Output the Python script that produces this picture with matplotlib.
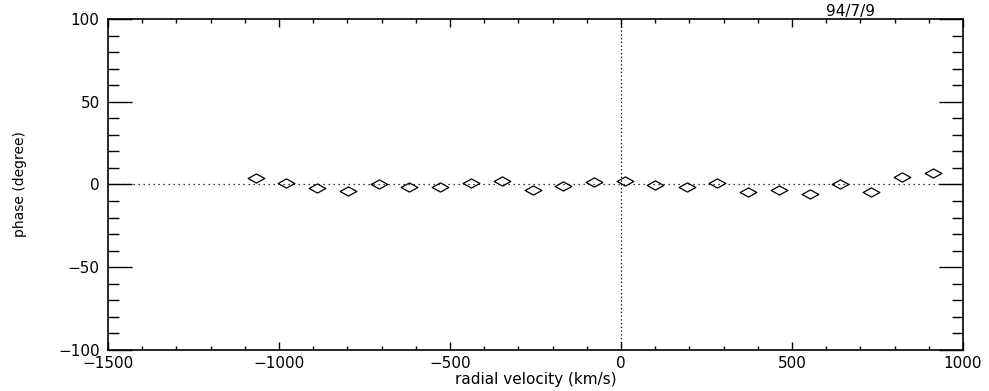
import numpy as np
import matplotlib.pyplot as plt
from matplotlib.path import Path
from matplotlib.ticker import MultipleLocator

# radial velocity (km/s) and phase (degree)
velocity = [-1068, -980, -890, -799, -708, -619, -529, -439, -348, -258, -169, -79,
            11, 99, 192, 282, 371, 461, 553, 641, 731, 822, 911]
phase = [4.0, 1.2, -2.0, -4.2, 0.6, -1.4, -1.6, 1.2, 2.0, -3.6, -0.8, 1.4,
         2.2, -0.4, -1.8, 1.0, -4.6, -3.4, -5.6, 0.0, -4.6, 4.6, 6.8]
date_label = "94/7/9"

# flattened diamond like the IDL psym=4
diamond = Path([(-1, 0), (0, 0.55), (1, 0), (0, -0.55), (-1, 0)],
               [Path.MOVETO, Path.LINETO, Path.LINETO, Path.LINETO, Path.CLOSEPOLY])

fig = plt.figure(figsize=(9.89, 3.91), dpi=100)
ax = fig.add_axes([0.1092, 0.1049, 0.8645, 0.8465])

ax.axhline(0, color='black', ls=(0, (1, 3)), lw=0.9)
ax.axvline(0, color='black', ls=(0, (1, 2)), lw=0.9)
ax.plot(velocity, phase, ls='none', marker=diamond, markersize=12,
        markerfacecolor='none', markeredgecolor='black', markeredgewidth=0.9)

ax.set_xlim(-1500, 1000)
ax.set_ylim(-100, 100)
ax.xaxis.set_major_locator(MultipleLocator(500))
ax.xaxis.set_minor_locator(MultipleLocator(100))
ax.yaxis.set_major_locator(MultipleLocator(50))
ax.yaxis.set_minor_locator(MultipleLocator(10))
ax.tick_params(which='both', direction='in', top=True, right=True, color='black',
               labelsize=11, width=1)
ax.tick_params(axis='x', which='major', length=6, pad=4)
ax.tick_params(axis='x', which='minor', length=3)
ax.tick_params(axis='y', which='major', length=17, pad=6)
ax.tick_params(axis='y', which='minor', length=8)
for s in ax.spines.values():
    s.set_linewidth(1.2)

ax.set_xlabel("radial velocity (km/s)", fontsize=11, labelpad=1)
ax.set_ylabel("phase (degree)", fontsize=10, labelpad=22)
ax.set_title(date_label, fontsize=11, loc='center', x=0.868, pad=1)

fig.savefig("out.png", dpi=100)
